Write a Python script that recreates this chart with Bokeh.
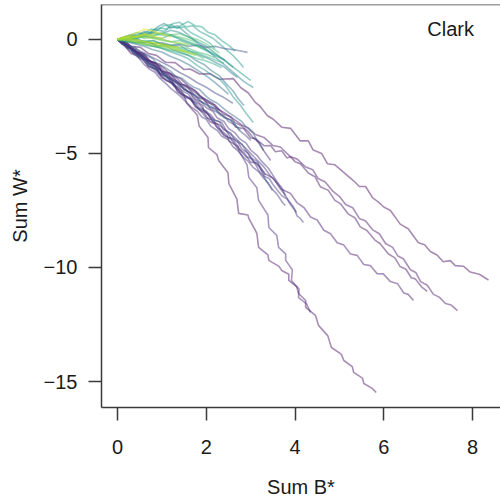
from bokeh.plotting import figure
from bokeh.models import Range1d, FixedTicker, Span, Label, ColumnDataSource
from bokeh.embed import file_html
from bokeh.resources import INLINE

# ---- data: cumulative sums (Sum B*, Sum W*) per trajectory ----
p1_b = [0, 0.15, 0.3, 0.52, 0.7, 0.88, 1.08, 1.3, 1.5, 1.64, 1.85, 2.09, 2.3, 2.61, 2.78, 2.95, 3.1, 3.22, 3.38, 3.51, 3.7, 3.9, 4.12, 4.3, 4.41, 4.6, 4.73, 4.9, 5.09, 5.32, 5.45, 5.59, 5.75, 5.86, 6.0, 6.15, 6.37, 6.55, 6.78, 6.92, 7.05, 7.2, 7.34, 7.5, 7.61, 7.8, 7.95, 8.15, 8.36]
p1_w = [0, -0.05, -0.3, -0.35, -0.62, -0.7, -1.0, -1.02, -1.32, -1.3, -1.52, -1.5, -1.75, -1.72, -2.12, -2.35, -2.75, -2.95, -3.35, -3.5, -3.85, -3.9, -4.45, -4.45, -4.85, -5.0, -5.45, -5.5, -5.82, -6.2, -6.45, -6.45, -6.95, -7.1, -7.35, -7.5, -8.1, -8.3, -8.92, -9.0, -9.3, -9.45, -9.75, -9.7, -9.92, -9.95, -10.2, -10.3, -10.55]

p2_b = [0, 0.2, 0.42, 0.6, 0.74, 0.95, 1.15, 1.42, 1.6, 1.8, 1.98, 2.2, 2.38, 2.55, 2.8, 2.95, 3.11, 3.3, 3.5, 3.67, 3.9, 4.05, 4.23, 4.4, 4.52, 4.68, 4.85, 5.0, 5.14, 5.3, 5.45, 5.59, 5.75, 5.9, 6.04, 6.2, 6.32, 6.44, 6.6, 6.72, 6.83, 6.98, 7.12, 7.25, 7.39, 7.52, 7.66]
p2_w = [0, -0.12, -0.55, -0.62, -0.97, -1.08, -1.45, -1.72, -2.05, -2.32, -2.73, -2.88, -3.25, -3.4, -3.75, -3.88, -4.17, -4.3, -4.65, -4.72, -5.15, -5.25, -5.58, -5.72, -6.1, -6.25, -6.65, -6.88, -7.24, -7.38, -7.85, -7.96, -8.35, -8.52, -8.95, -9.12, -9.5, -9.62, -10.1, -10.22, -10.62, -10.78, -11.18, -11.3, -11.58, -11.65, -11.89]

p3_b = [0, 0.18, 0.35, 0.5, 0.63, 0.85, 1.0, 1.19, 1.4, 1.55, 1.76, 1.95, 2.08, 2.21, 2.4, 2.55, 2.66, 2.85, 3.0, 3.11, 3.3, 3.45, 3.56, 3.7, 3.82, 3.9, 4.0, 4.12, 4.3, 4.45, 4.57, 4.75, 4.9, 5.02, 5.2, 5.35, 5.47, 5.62, 5.8, 5.92, 6.1, 6.25, 6.37, 6.5, 6.62, 6.71, 6.85, 6.98]
p3_w = [0, -0.2, -0.5, -0.62, -0.9, -1.02, -1.38, -1.5, -1.97, -2.02, -2.52, -2.62, -2.97, -3.05, -3.42, -3.52, -3.84, -3.92, -4.32, -4.35, -4.66, -4.65, -4.93, -4.88, -5.2, -5.15, -5.36, -5.45, -5.86, -6.02, -6.46, -6.62, -7.06, -7.2, -7.66, -7.82, -8.22, -8.38, -8.8, -8.96, -9.4, -9.58, -9.96, -10.08, -10.45, -10.5, -10.85, -11.05]

p4_b = [0, 0.15, 0.3, 0.52, 0.7, 0.9, 1.08, 1.25, 1.45, 1.64, 1.8, 1.95, 2.09, 2.25, 2.4, 2.55, 2.7, 2.85, 3.0, 3.15, 3.33, 3.5, 3.7, 3.9, 4.05, 4.2, 4.35, 4.5, 4.65, 4.8, 4.95, 5.1, 5.25, 5.4, 5.55, 5.7, 5.85, 5.99, 6.15, 6.31, 6.45, 6.55, 6.67]
p4_w = [0, -0.22, -0.62, -0.76, -1.17, -1.38, -1.78, -1.93, -2.42, -2.6, -3.02, -3.22, -3.62, -3.72, -4.22, -4.35, -4.77, -4.97, -5.38, -5.42, -5.9, -6.07, -6.57, -6.76, -7.17, -7.37, -7.79, -7.92, -8.37, -8.52, -8.92, -9.02, -9.41, -9.47, -9.87, -9.92, -10.27, -10.28, -10.62, -10.71, -11.12, -11.18, -11.45]

p5_b = [0, 0.24, 0.36, 0.62, 0.7, 0.94, 1.01, 1.22, 1.27, 1.49, 1.56, 1.8, 1.84, 2.04, 2.05, 2.24, 2.28, 2.49, 2.51, 2.69, 2.73, 2.94, 2.96, 3.14, 3.18, 3.39, 3.41, 3.64, 3.7, 3.86, 3.86, 4.04, 4.08, 4.24, 4.24, 4.46, 4.53, 4.74, 4.82, 5.04, 5.1, 5.29, 5.32, 5.52, 5.55, 5.74, 5.83]
p5_w = [0, -0.25, -0.5, -0.72, -0.92, -1.2, -1.5, -1.75, -2.02, -2.4, -2.8, -3.33, -3.8, -4.3, -4.74, -5.05, -5.31, -5.85, -6.32, -7.0, -7.63, -7.7, -7.85, -8.5, -9.12, -9.45, -9.69, -9.95, -10.13, -10.3, -10.57, -10.85, -11.14, -11.45, -11.75, -12.1, -12.54, -13.0, -13.51, -13.8, -14.08, -14.35, -14.6, -14.85, -15.09, -15.3, -15.48]

p6_b = [0, 0.24, 0.36, 0.59, 0.7, 0.96, 1.06, 1.29, 1.38, 1.64, 1.71, 1.92, 1.94, 2.16, 2.24, 2.47, 2.51, 2.72, 2.73, 2.92, 2.96, 3.14, 3.18, 3.39, 3.41, 3.59, 3.63, 3.79, 3.79, 3.94, 3.92, 4.09, 4.08, 4.26, 4.35]
p6_w = [0, -0.3, -0.55, -0.75, -1.01, -1.3, -1.6, -1.8, -2.02, -2.35, -2.6, -2.9, -3.11, -3.5, -3.85, -4.21, -4.45, -4.7, -4.87, -5.5, -6.05, -6.5, -7.06, -7.7, -8.25, -8.6, -9.12, -9.4, -9.69, -10.1, -10.57, -10.95, -11.32, -11.6, -11.97]

d1_b = [0, 0.12, 0.25, 0.4, 0.5, 0.62, 0.75, 0.9, 1.0, 1.12, 1.25, 1.4, 1.5, 1.62, 1.75, 1.9, 2.0, 2.1, 2.2, 2.32, 2.45, 2.6, 2.7, 2.8, 2.9, 3.0, 3.1, 3.2, 3.3, 3.42, 3.5, 3.6, 3.7, 3.82, 3.9, 4.0, 4.05, 4.12, 4.19]
d1_w = [0, -0.1, -0.35, -0.45, -0.85, -0.9, -1.15, -1.45, -1.7, -1.75, -2.0, -2.35, -2.55, -2.6, -2.85, -3.2, -3.45, -3.5, -3.75, -4.05, -4.25, -4.4, -4.65, -4.95, -5.15, -5.2, -5.45, -5.8, -6.0, -6.1, -6.35, -6.6, -6.85, -7.0, -7.25, -7.5, -7.75, -7.85, -8.03]
d2_b = [0, 0.15, 0.3, 0.4, 0.55, 0.7, 0.85, 0.95, 1.1, 1.2, 1.35, 1.5, 1.6, 1.7, 1.85, 1.95, 2.1, 2.2, 2.35, 2.45, 2.55, 2.7, 2.8, 2.95, 3.05, 3.2, 3.3, 3.45, 3.55, 3.65, 3.75, 3.85, 3.95, 4.03]
d2_w = [0, -0.25, -0.35, -0.6, -0.7, -1.05, -1.2, -1.5, -1.6, -1.85, -2.1, -2.3, -2.4, -2.7, -2.85, -3.1, -3.3, -3.55, -3.65, -4.0, -4.15, -4.4, -4.6, -4.9, -5.1, -5.4, -5.6, -6.0, -6.2, -6.5, -6.75, -7.05, -7.3, -7.59]
d3_b = [0, 0.1, 0.25, 0.35, 0.5, 0.6, 0.72, 0.85, 0.95, 1.1, 1.2, 1.3, 1.42, 1.55, 1.65, 1.8, 1.9, 2.0, 2.1, 2.25, 2.35, 2.5, 2.6, 2.72, 2.85, 2.95, 3.05, 3.18, 3.3, 3.4, 3.5, 3.58, 3.65, 3.72, 3.78]
d3_w = [0, -0.2, -0.45, -0.6, -0.85, -1.1, -1.3, -1.45, -1.7, -1.95, -2.15, -2.3, -2.5, -2.75, -2.95, -3.15, -3.4, -3.5, -3.8, -4.0, -4.25, -4.4, -4.7, -4.9, -5.2, -5.35, -5.6, -5.8, -6.1, -6.3, -6.6, -6.75, -6.95, -7.15, -7.28]
d4_b = [0, 0.15, 0.22, 0.4, 0.45, 0.62, 0.7, 0.9, 0.98, 1.15, 1.25, 1.4, 1.48, 1.6, 1.72, 1.85, 2.0, 2.1, 2.3, 2.38, 2.55, 2.65, 2.8, 2.92, 3.0, 3.15, 3.25, 3.35, 3.49]
d4_w = [0, -0.1, -0.35, -0.45, -0.75, -0.85, -1.15, -1.3, -1.55, -1.7, -2.0, -2.1, -2.4, -2.55, -2.7, -3.0, -3.15, -3.5, -3.6, -3.95, -4.1, -4.45, -4.6, -4.95, -5.2, -5.35, -5.8, -6.2, -6.62]
d5_b = [0, 0.1, 0.28, 0.35, 0.5, 0.62, 0.7, 0.88, 1.0, 1.1, 1.28, 1.35, 1.5, 1.65, 1.75, 1.9, 2.05, 2.15, 2.3, 2.45, 2.55, 2.7, 2.8, 2.95, 3.05, 3.2, 3.33]
d5_w = [0, -0.2, -0.3, -0.6, -0.7, -1.0, -1.2, -1.3, -1.65, -1.8, -1.95, -2.3, -2.45, -2.6, -2.95, -3.1, -3.3, -3.6, -3.75, -4.0, -4.3, -4.45, -4.8, -5.0, -5.3, -5.6, -5.96]
d6_b = [0, 0.15, 0.25, 0.4, 0.52, 0.65, 0.8, 0.9, 1.05, 1.2, 1.3, 1.45, 1.6, 1.72, 1.85, 2.0, 2.1, 2.25, 2.4, 2.5, 2.65, 2.8, 2.9, 3.05, 3.15, 3.29]
d6_w = [0, -0.1, -0.3, -0.35, -0.6, -0.7, -0.85, -1.1, -1.2, -1.4, -1.6, -1.7, -1.95, -2.1, -2.2, -2.5, -2.65, -2.8, -3.05, -3.2, -3.4, -3.6, -3.85, -4.1, -4.45, -4.87]
d7_b = [0, 0.12, 0.2, 0.35, 0.45, 0.6, 0.7, 0.85, 0.95, 1.1, 1.2, 1.35, 1.5, 1.6, 1.75, 1.85, 2.0, 2.1, 2.25, 2.4, 2.5, 2.65, 2.75, 2.88, 3.0]
d7_w = [0, -0.15, -0.35, -0.45, -0.7, -0.8, -1.05, -1.2, -1.45, -1.55, -1.8, -1.95, -2.1, -2.3, -2.45, -2.7, -2.85, -3.05, -3.2, -3.35, -3.6, -3.75, -4.0, -4.2, -4.43]
d8_b = [0, 0.15, 0.25, 0.4, 0.55, 0.65, 0.8, 0.95, 1.05, 1.2, 1.35, 1.45, 1.6, 1.75, 1.85, 2.0, 2.15, 2.25, 2.4, 2.55, 2.65, 2.8, 2.95, 3.05, 3.2, 3.32, 3.45]
d8_w = [0, -0.15, -0.35, -0.5, -0.6, -0.85, -1.0, -1.15, -1.4, -1.55, -1.7, -1.95, -2.1, -2.25, -2.5, -2.65, -2.8, -3.05, -3.2, -3.4, -3.65, -3.8, -4.05, -4.3, -4.55, -4.95, -5.31]
d9_b = [0, 0.1, 0.22, 0.35, 0.45, 0.6, 0.72, 0.85, 1.0, 1.1, 1.25, 1.4, 1.5, 1.65, 1.8, 1.9, 2.05, 2.2, 2.3, 2.45, 2.6, 2.7, 2.77]
d9_w = [0, -0.2, -0.3, -0.55, -0.7, -0.85, -1.1, -1.25, -1.4, -1.65, -1.8, -1.95, -2.2, -2.35, -2.5, -2.75, -2.9, -3.05, -3.3, -3.45, -3.6, -3.85, -3.99]
d10_b = [0, 0.12, 0.25, 0.38, 0.5, 0.62, 0.75, 0.88, 1.0, 1.15, 1.25, 1.4, 1.5, 1.65, 1.75, 1.9, 2.0, 2.15, 2.25, 2.4, 2.5, 2.65, 2.75, 2.9, 3.0, 3.15, 3.25, 3.4, 3.5, 3.6, 3.7, 3.78]
d10_w = [0, -0.1, -0.3, -0.45, -0.65, -0.8, -1.0, -1.2, -1.4, -1.55, -1.8, -1.95, -2.2, -2.35, -2.6, -2.75, -3.0, -3.15, -3.45, -3.6, -3.9, -4.1, -4.35, -4.55, -4.85, -5.1, -5.35, -5.65, -5.95, -6.25, -6.5, -6.84]
e1_b = [0, 0.2, 0.4, 0.6, 0.8, 1.0, 1.2, 1.4, 1.6, 1.8, 2.0, 2.15, 2.3]
e1_w = [0, -0.3, -0.55, -0.85, -1.1, -1.4, -1.65, -1.9, -2.15, -2.4, -2.65, -2.9, -3.1]
e2_b = [0, 0.2, 0.4, 0.6, 0.8, 1.0, 1.2, 1.4, 1.6, 1.8, 2.0, 2.2, 2.4, 2.6]
e2_w = [0, -0.2, -0.4, -0.6, -0.8, -1.0, -1.2, -1.45, -1.65, -1.9, -2.1, -2.35, -2.55, -2.8]

c1_b = [0, 0.15, 0.3, 0.5, 0.74, 0.95, 1.2, 1.42, 1.6, 1.8, 1.98, 2.15, 2.3, 2.43, 2.6, 2.77, 2.9, 3.06]
c1_w = [0, 0.05, -0.1, -0.15, -0.26, -0.35, -0.55, -0.7, -0.85, -1.15, -1.36, -1.6, -1.75, -2.02, -2.5, -2.89, -3.25, -3.64]
c2_b = [0, 0.15, 0.3, 0.45, 0.6, 0.75, 0.9, 1.05, 1.2, 1.35, 1.5, 1.65, 1.8, 1.95, 2.1, 2.25, 2.4, 2.55, 2.7, 2.85, 3.06]
c2_w = [0, 0.1, 0.2, 0.15, 0.35, 0.3, 0.55, 0.7, 0.5, 0.6, 0.35, 0.1, -0.15, -0.35, -0.6, -0.85, -1.1, -1.35, -1.6, -1.85, -2.11]
c3_b = [0, 0.15, 0.3, 0.5, 0.65, 0.8, 0.95, 1.1, 1.25, 1.4, 1.55, 1.7, 1.85, 2.0, 2.15, 2.3, 2.45, 2.6, 2.72, 2.84]
c3_w = [0, 0.08, 0.15, 0.25, 0.2, 0.4, 0.5, 0.45, 0.7, 0.75, 0.55, 0.6, 0.35, 0.2, 0.05, -0.2, -0.45, -0.7, -0.95, -1.23]
c4_b = [0, 0.2, 0.4, 0.6, 0.8, 1.0, 1.2, 1.4, 1.6, 1.8, 2.0, 2.2, 2.4, 2.6, 2.75, 2.93]
c4_w = [0, -0.05, -0.15, -0.1, -0.2, -0.15, -0.25, -0.2, -0.3, -0.25, -0.35, -0.3, -0.4, -0.45, -0.5, -0.57]
c5_b = [0, 0.2, 0.4, 0.6, 0.8, 1.0, 1.2, 1.4, 1.6, 1.8, 2.0, 2.2, 2.4, 2.55, 2.7]
c5_w = [0, -0.05, 0.05, -0.1, -0.05, -0.2, -0.3, -0.25, -0.5, -0.65, -0.8, -1.0, -1.2, -1.45, -1.67]
c6_b = [0, 0.2, 0.4, 0.6, 0.8, 1.0, 1.2, 1.4, 1.6, 1.8, 2.0, 2.2, 2.4, 2.61]
c6_w = [0, 0.1, 0.05, 0.2, 0.3, 0.25, 0.4, 0.3, 0.1, -0.1, -0.3, -0.6, -0.9, -1.23]
c7_b = [0, 0.2, 0.4, 0.6, 0.8, 1.0, 1.2, 1.4, 1.6, 1.8, 2.0, 2.2, 2.43]
c7_w = [0, 0.05, 0.15, 0.1, 0.25, 0.2, 0.15, 0.05, -0.1, -0.25, -0.45, -0.65, -0.92]
c8_b = [0, 0.2, 0.4, 0.6, 0.8, 1.0, 1.2, 1.4, 1.6, 1.8, 2.0, 2.2, 2.4, 2.6, 2.8, 3.0]
c8_w = [0, 0.05, 0.0, 0.15, 0.1, 0.05, 0.2, 0.0, -0.15, -0.3, -0.5, -0.7, -0.9, -1.2, -1.5, -1.8]
c9_b = [0, 0.2, 0.4, 0.6, 0.8, 1.0, 1.2, 1.4, 1.6, 1.8, 2.0, 2.2, 2.35, 2.5]
c9_w = [0, -0.1, -0.2, -0.3, -0.45, -0.55, -0.75, -0.9, -1.1, -1.35, -1.6, -1.9, -2.15, -2.4]
c10_b = [0, 0.15, 0.3, 0.45, 0.6, 0.75, 0.9, 1.05, 1.2, 1.35, 1.5, 1.65, 1.8, 1.95, 2.1, 2.2]
c10_w = [0, 0.1, 0.2, 0.3, 0.25, 0.45, 0.4, 0.6, 0.65, 0.5, 0.55, 0.3, 0.15, 0.0, -0.2, -0.4]
c11_b = [0, 0.2, 0.35, 0.55, 0.7, 0.9, 1.05, 1.25, 1.4, 1.6, 1.75, 1.95, 2.1, 2.3, 2.45, 2.6, 2.72, 2.85]
c11_w = [0, -0.1, 0.0, -0.15, -0.1, -0.3, -0.25, -0.45, -0.55, -0.7, -0.9, -1.1, -1.35, -1.6, -1.95, -2.25, -2.6, -2.9]
c12_b = [0, 0.15, 0.3, 0.45, 0.6, 0.75, 0.9, 1.05, 1.2, 1.35, 1.5, 1.6, 1.75, 1.9, 2.05, 2.2, 2.35, 2.5, 2.65]
c12_w = [0, 0.05, 0.15, 0.1, 0.3, 0.25, 0.4, 0.35, 0.55, 0.5, 0.7, 0.78, 0.6, 0.55, 0.3, 0.2, -0.05, -0.25, -0.5]

b1_b = [0, 0.2, 0.4, 0.6, 0.8, 1.0, 1.2, 1.4, 1.6, 1.8, 2.0, 2.2]
b1_w = [0, 0.05, 0.0, -0.1, -0.05, -0.2, -0.25, -0.35, -0.4, -0.55, -0.65, -0.8]
b2_b = [0, 0.2, 0.4, 0.6, 0.8, 1.0, 1.2, 1.4, 1.6, 1.8, 2.0]
b2_w = [0, 0.1, 0.15, 0.05, 0.1, 0.0, -0.1, -0.05, -0.2, -0.3, -0.45]
b3_b = [0, 0.2, 0.4, 0.6, 0.8, 1.0, 1.2, 1.4, 1.6, 1.8, 1.95]
b3_w = [0, -0.05, -0.15, -0.2, -0.3, -0.35, -0.45, -0.5, -0.6, -0.7, -0.85]
b4_b = [0, 0.2, 0.4, 0.6, 0.8, 1.0, 1.2, 1.4, 1.6, 1.8]
b4_w = [0, 0.05, 0.1, 0.2, 0.15, 0.25, 0.2, 0.1, 0.0, -0.15]
b5_b = [0, 0.2, 0.4, 0.6, 0.8, 1.0, 1.2, 1.4, 1.6, 1.8, 2.0, 2.2, 2.4]
b5_w = [0, 0.0, -0.1, -0.05, -0.15, -0.2, -0.3, -0.4, -0.5, -0.6, -0.75, -0.9, -1.05]
b6_b = [0, 0.2, 0.4, 0.6, 0.8, 1.0, 1.2, 1.4, 1.6]
b6_w = [0, 0.1, 0.05, 0.15, 0.05, -0.05, -0.1, -0.2, -0.35]
b7_b = [0, 0.2, 0.4, 0.6, 0.8, 1.0, 1.2, 1.4, 1.6, 1.8, 2.0, 2.2, 2.35]
b7_w = [0, -0.1, -0.15, -0.25, -0.3, -0.4, -0.5, -0.6, -0.7, -0.85, -0.95, -1.1, -1.25]
b8_b = [0, 0.2, 0.4, 0.6, 0.8, 1.0, 1.2, 1.4, 1.6, 1.8, 2.0, 2.15, 2.3]
b8_w = [0, 0.1, 0.05, 0.2, 0.15, 0.3, 0.2, 0.25, 0.1, 0.0, -0.2, -0.4, -0.6]

a1_b = [0, 0.15, 0.3, 0.45, 0.6, 0.75, 0.9, 1.05]
a1_w = [0, 0.05, 0.15, 0.1, 0.2, 0.15, 0.1, 0.05]
a2_b = [0, 0.15, 0.3, 0.45, 0.6, 0.75, 0.9, 1.05, 1.2]
a2_w = [0, 0.1, 0.2, 0.3, 0.45, 0.4, 0.3, 0.2, 0.1]
a3_b = [0, 0.2, 0.4, 0.6, 0.8, 1.0, 1.2, 1.4]
a3_w = [0, 0.0, -0.05, -0.1, -0.15, -0.2, -0.3, -0.35]
a4_b = [0, 0.2, 0.4, 0.6, 0.8, 1.0, 1.2, 1.4, 1.6]
a4_w = [0, 0.05, 0.0, -0.1, -0.15, -0.25, -0.3, -0.45, -0.55]
a5_b = [0, 0.2, 0.4, 0.6, 0.8, 1.0, 1.2, 1.4, 1.6, 1.75]
a5_w = [0, -0.05, -0.1, -0.2, -0.25, -0.3, -0.4, -0.5, -0.6, -0.7]
a6_b = [0, 0.2, 0.4, 0.6, 0.8, 1.0, 1.2, 1.4, 1.6]
a6_w = [0, 0.05, 0.15, 0.1, 0.05, 0.0, -0.1, -0.15, -0.25]
a7_b = [0, 0.15, 0.3, 0.45, 0.6, 0.75, 0.9]
a7_w = [0, 0.1, 0.05, 0.15, 0.25, 0.2, 0.3]
a8_b = [0, 0.2, 0.4, 0.6, 0.8, 1.0, 1.2, 1.4, 1.6, 1.8]
a8_w = [0, 0.0, -0.1, -0.15, -0.2, -0.3, -0.35, -0.45, -0.55, -0.65]

walks = [
    (p1_b, p1_w, "#46085c"), (p2_b, p2_w, "#481467"), (p3_b, p3_w, "#471063"),
    (p4_b, p4_w, "#481a6c"), (p5_b, p5_w, "#470d60"), (p6_b, p6_w, "#482173"),
    (d1_b, d1_w, "#433e85"), (d2_b, d2_w, "#472c7a"), (d3_b, d3_w, "#46337f"),
    (d4_b, d4_w, "#3b528b"), (d5_b, d5_w, "#482878"), (d6_b, d6_w, "#33638d"),
    (d7_b, d7_w, "#414487"), (d8_b, d8_w, "#481f70"), (d9_b, d9_w, "#2e6e8e"),
    (d10_b, d10_w, "#472f7d"), (e1_b, e1_w, "#46327e"), (e2_b, e2_w, "#404588"),
    (c1_b, c1_w, "#21918c"), (c2_b, c2_w, "#26828e"), (c3_b, c3_w, "#1f9a8a"),
    (c4_b, c4_w, "#3b528b"), (c5_b, c5_w, "#2a788e"), (c6_b, c6_w, "#25858e"),
    (c7_b, c7_w, "#22a884"), (c8_b, c8_w, "#1f968b"), (c9_b, c9_w, "#2e6f8e"),
    (c10_b, c10_w, "#20a486"), (c11_b, c11_w, "#2c728e"), (c12_b, c12_w, "#1e9c89"),
    (b1_b, b1_w, "#35b779"), (b2_b, b2_w, "#3fbc73"), (b3_b, b3_w, "#4ac16d"),
    (b4_b, b4_w, "#52c569"), (b5_b, b5_w, "#2fb47c"), (b6_b, b6_w, "#5ec962"),
    (b7_b, b7_w, "#28ae80"), (b8_b, b8_w, "#44bf70"),
    (a1_b, a1_w, "#fde725"), (a2_b, a2_w, "#e5e419"), (a3_b, a3_w, "#d0e11c"),
    (a4_b, a4_w, "#bddf26"), (a5_b, a5_w, "#addc30"), (a6_b, a6_w, "#9bd93c"),
    (a7_b, a7_w, "#c8e020"), (a8_b, a8_w, "#84d44b"),
]

x_ticks = [0, 2, 4, 6, 8]
y_ticks = [-15, -10, -5, 0]
y_tick_labels = {-15: "\u221215", -10: "\u221210", -5: "\u22125", 0: "0"}
panel_label = "Clark"

FONT = "Liberation Sans"
TXT = "#1a1a1a"
LINE = "#3a3a3a"

p = figure(width=500, height=503, output_backend="svg", toolbar_location=None,
           x_range=Range1d(-0.36, 8.63), y_range=Range1d(-16.14, 1.53),
           min_border_left=101, min_border_right=0, min_border_top=4, min_border_bottom=96)
p.background_fill_color = "white"
p.border_fill_color = "white"
p.outline_line_color = None
p.xgrid.visible = False
p.ygrid.visible = False

src = ColumnDataSource(dict(xs=[w[0] for w in walks], ys=[w[1] for w in walks],
                            color=[w[2] for w in walks]))
p.multi_line(xs="xs", ys="ys", line_color="color", line_alpha=0.47, line_width=1.6, source=src)

p.add_layout(Span(location=1.53, dimension="width", line_color=LINE, line_width=1.5))

for ax in (p.xaxis[0], p.yaxis[0]):
    ax.axis_line_color = LINE
    ax.axis_line_width = 1.5
    ax.major_tick_line_color = LINE
    ax.major_tick_line_width = 1.5
    ax.major_tick_in = 0
    ax.major_tick_out = 13
    ax.minor_tick_line_color = None
    ax.major_label_text_font = FONT
    ax.major_label_text_font_size = "20px"
    ax.major_label_text_color = TXT
    ax.axis_label_text_font = FONT
    ax.axis_label_text_font_size = "20px"
    ax.axis_label_text_font_style = "normal"
    ax.axis_label_text_color = TXT

p.xaxis[0].ticker = FixedTicker(ticks=x_ticks)
p.yaxis[0].ticker = FixedTicker(ticks=y_ticks)
p.yaxis[0].major_label_overrides = y_tick_labels
p.xaxis[0].axis_label = "Sum B*"
p.yaxis[0].axis_label = "Sum W*"
p.xaxis[0].major_label_standoff = 19
p.yaxis[0].major_label_standoff = 11
p.xaxis[0].axis_label_standoff = 19
p.yaxis[0].axis_label_standoff = 10

p.add_layout(Label(x=6.98, y=0.44, text=panel_label, text_font=FONT, text_font_size="20px",
                   text_color=TXT, text_baseline="alphabetic"))

open("out.html", "w").write(file_html(p, INLINE))
